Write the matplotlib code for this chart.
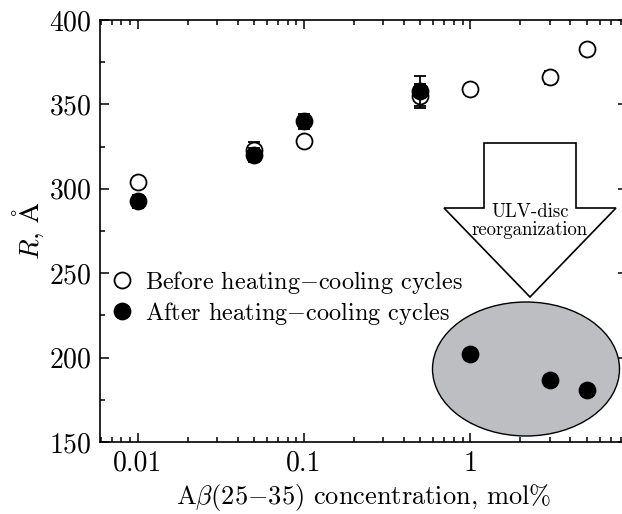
import matplotlib
matplotlib.use("Agg")
import matplotlib.pyplot as plt
from matplotlib.patches import Ellipse, Polygon
from matplotlib.lines import Line2D
from matplotlib.ticker import LogLocator, FixedLocator, MultipleLocator

plt.rcParams['font.family'] = 'serif'
plt.rcParams['font.serif'] = ['cmr10']
plt.rcParams['mathtext.fontset'] = 'cm'
plt.rcParams['axes.unicode_minus'] = False
plt.rcParams['axes.formatter.use_mathtext'] = True

# data
conc_before = [0.01, 0.05, 0.1, 0.5, 1, 3, 5]
R_before = [304, 323, 328.5, 355, 359, 366, 383]
err_before = [0, 5, 0, 7, 0, 4, 0]

conc_after = [0.01, 0.05, 0.1, 0.5, 1, 3, 5]
R_after = [292.5, 320, 340, 358, 202, 186.5, 181]
err_after = [4, 4, 4.5, 9, 0, 0, 0]

xticks = [0.01, 0.1, 1]
xtick_labels = ['0.01', '0.1', '1']
yticks = [150, 200, 250, 300, 350, 400]

fig = plt.figure(figsize=(6.22, 5.14), dpi=100)
AX_L, AX_R, AX_T, AX_B = 100, 627, 20, 442
ax = fig.add_axes([AX_L/622, 1 - AX_B/514, (AX_R-AX_L)/622, (AX_B-AX_T)/514])

ax.set_xscale('log')
ax.set_xlim(0.00595, 8.75)
ax.set_ylim(150, 400)

# inset decorations (axes coords, from pixel positions)
def px(x, y):
    return ((x - AX_L) / (AX_R - AX_L), (AX_B - y) / (AX_B - AX_T))

ell = Ellipse(px(526, 369), 187/(AX_R-AX_L), 134/(AX_B-AX_T), transform=ax.transAxes,
              facecolor='#bdbec2', edgecolor='black', lw=1.0, zorder=1)
ax.add_patch(ell)
arrow_pts = [px(484, 143), px(576, 143), px(576, 208), px(616, 208),
             px(530, 297), px(444, 208), px(484, 208)]
ax.add_patch(Polygon(arrow_pts, closed=True, transform=ax.transAxes,
                     facecolor='white', edgecolor='black', lw=1.2, zorder=1))
tx, ty = px(530, 221)
ax.text(tx, ty, 'ULV-disc\nreorganization', transform=ax.transAxes,
        ha='center', va='center', fontsize=13.5, linespacing=1.05, zorder=2)

ms = 11.5
ax.errorbar(conc_before, R_before, yerr=err_before, fmt='o', ms=ms,
            mfc='white', mec='black', mew=1.3, ecolor='black', elinewidth=1.3,
            capsize=4.5, capthick=1.3, zorder=3)
ax.errorbar(conc_after, R_after, yerr=err_after, fmt='o', ms=ms,
            mfc='black', mec='black', mew=1.3, ecolor='black', elinewidth=1.3,
            capsize=4.5, capthick=1.3, zorder=4)

ax.xaxis.set_major_locator(FixedLocator(xticks))
ax.set_xticklabels(xtick_labels)
ax.xaxis.set_minor_locator(LogLocator(base=10, subs=range(2, 10)))
ax.xaxis.set_minor_formatter(plt.NullFormatter())
ax.yaxis.set_major_locator(FixedLocator(yticks))
ax.yaxis.set_minor_locator(MultipleLocator(25))

ax.tick_params(which='both', direction='in', top=True, right=True, labelsize=20, width=1.1)
ax.tick_params(which='major', length=6.5, pad=6)
ax.tick_params(which='minor', length=3.8)
for s in ax.spines.values():
    s.set_linewidth(1.2)

ax.set_xlabel(r'A$\beta$(25$-$35) concentration, mol%', fontsize=19, labelpad=4)
ax.set_ylabel(r'$R$, $\mathrm{\AA}$', fontsize=19.5, labelpad=2)

handles = [Line2D([], [], ls='none', marker='o', ms=ms, mfc='white', mec='black', mew=1.3),
           Line2D([], [], ls='none', marker='o', ms=ms, mfc='black', mec='black', mew=1.3)]
labels = [r'Before heating$-$cooling cycles', r'After heating$-$cooling cycles']
ax.legend(handles, labels, loc='upper left', bbox_to_anchor=px(112, 269),
          bbox_transform=ax.transAxes, frameon=False, fontsize=17.5,
          handlelength=0.8, handletextpad=0.55, labelspacing=0.15,
          borderpad=0, borderaxespad=0)

fig.savefig('out.png', dpi=100)
